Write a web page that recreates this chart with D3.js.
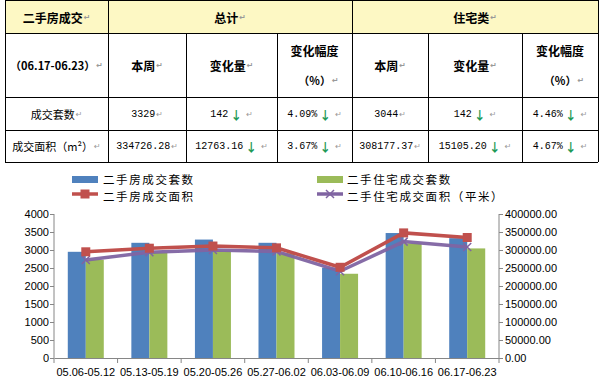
<!DOCTYPE html>
<html><head><meta charset="utf-8">
<script src="https://cdn.jsdelivr.net/npm/d3@7"></script>
<style>body{margin:0;background:#fff}svg{display:block}</style>
</head><body><svg id="c" width="600" height="382"></svg>
<script>
// ---- data ----
const categories = ["05.06-05.12","05.13-05.19","05.20-05.26","05.27-06.02","06.03-06.09","06.10-06.16","06.17-06.23"];
const totalCount = [2950, 3200, 3290, 3200, 2510, 3471, 3329];
const resCount = [2730, 2920, 2960, 2910, 2340, 3186, 3044];
const totalArea = [295000, 305000, 311000, 306000, 252000, 347489.44, 334726.28];
const resArea = [272000, 294000, 300000, 296000, 241000, 323282.57, 308177.37];
const seriesNames = ["二手房成交套数","二手住宅成交套数","二手房成交面积","二手住宅成交面积（平米）"];
const leftTicks = [0,500,1000,1500,2000,2500,3000,3500,4000];
const rightTicks = [0,50000,100000,150000,200000,250000,300000,350000,400000];

const tableTitle = "二手房成交";
const groupHeads = ["总计","住宅类"];
const periodLabel = "（06.17-06.23）";
const subHeads = ["本周","变化量","变化幅度"];
const rowLabels = ["成交套数","成交面积（m²）"];
const tableRows = [
  ["3329","142","4.09%","3044","142","4.46%"],
  ["334726.28","12763.16","3.67%","308177.37","15105.20","4.67%"]
];
const arrows = [[false,true,true,false,true,true],[false,true,true,false,true,true]];

const svg = d3.select("#c");
const CJK = "'Noto Sans CJK SC', sans-serif";
const MONO = "'Liberation Mono', monospace";

// ---- table ----
const colX = [5,108,186,277,352,428,522,598];
const rowY = [0,33,97,130,162];
const tg = svg.append("g");
tg.append("rect").attr("x",5).attr("y",0).attr("width",593).attr("height",33).attr("fill","#fdf8c4");
const lines = [];
rowY.forEach(y=>lines.push([5,y,598,y]));
colX.forEach((x,i)=>{
  if(i===0||i===1||i===4||i===7) lines.push([x,0,x,162]);
  else lines.push([x,33,x,162]);
});
tg.selectAll("line.b").data(lines).join("line").attr("class","b")
  .attr("x1",d=>d[0]).attr("y1",d=>d[1]+0.5*(d[1]===d[3]?1:0)).attr("x2",d=>d[2]).attr("y2",d=>d[3]+0.5*(d[1]===d[3]?1:0))
  .attr("transform",d=>d[0]===d[2]?"translate(0.5,0)":"")
  .attr("stroke","#000").attr("stroke-width",1);

function txt(x,y,s,opt={}){
  const t = tg.append("text").attr("x",x).attr("y",y).attr("dominant-baseline","central")
    .attr("text-anchor",opt.anchor||"middle")
    .attr("font-family",opt.font||CJK).attr("font-size",opt.size||12)
    .attr("font-weight",opt.bold?"bold":"normal").attr("fill","#000");
  t.append("tspan").text(s);
  if(opt.arrow) t.append("tspan").attr("fill","#1f9a56").attr("font-weight","bold").attr("font-family",CJK).attr("font-size",12).attr("dx",2).text("↓");
  if(opt.mark!==false) t.append("tspan").attr("fill","#999").attr("font-family","'DejaVu Sans'").attr("font-size",8).attr("dx",opt.arrow?4:1).text("↵");
  return t;
}
const cx = i=>(colX[i]+colX[i+1])/2;
txt(cx(0),17,tableTitle,{bold:true});
txt((colX[1]+colX[4])/2,17,groupHeads[0],{bold:true});
txt((colX[4]+colX[7])/2,17,groupHeads[1],{bold:true});
txt(cx(0),65,periodLabel,{bold:true,size:11});
[0,3].forEach(off=>{
  txt(cx(1+off),65,subHeads[0],{bold:true});
  txt(cx(2+off),65,subHeads[1],{bold:true});
  txt(cx(3+off),50,subHeads[2],{bold:true,mark:false});
  txt(cx(3+off)+4,80,"（%）",{bold:true,size:11});
});
rowLabels.forEach((lab,r)=>{
  const y = (rowY[r+2]+rowY[r+3])/2;
  txt(cx(0),y,lab,{size:11});
  tableRows[r].forEach((v,c)=>{
    txt(cx(c+1),y,v,{font:MONO,size:10,arrow:arrows[r][c]});
  });
});

// ---- chart ----
const L=54, R=499, T=214, B=358;
const x = d3.scaleBand().domain(categories).range([L,R]);
const yL = d3.scaleLinear().domain([0,4000]).range([B,T]);
const yR = d3.scaleLinear().domain([0,400000]).range([B,T]);
const colors = ["#4f81bd","#9bbb59","#c0504d","#8064a2"];
const bw = 18;
const cg = svg.append("g");
categories.forEach((c,i)=>{
  const cxm = x(c)+x.bandwidth()/2;
  cg.append("rect").attr("x",cxm-bw).attr("y",yL(totalCount[i])).attr("width",bw).attr("height",B-yL(totalCount[i])).attr("fill",colors[0]);
  cg.append("rect").attr("x",cxm).attr("y",yL(resCount[i])).attr("width",bw).attr("height",B-yL(resCount[i])).attr("fill",colors[1]);
});
const axisColor="#868686";
const gl = cg.append("g").attr("transform",`translate(${L},0)`).call(d3.axisLeft(yL).tickValues(leftTicks).tickSize(4).tickFormat(d3.format("d")));
const gr = cg.append("g").attr("transform",`translate(${R},0)`).call(d3.axisRight(yR).tickValues(rightTicks).tickSize(4).tickFormat(d3.format(".2f")));
const gx = cg.append("g").attr("transform",`translate(0,${B})`).call(d3.axisBottom(x).tickSize(0).tickPadding(10));
gx.selectAll(".tick").append("line").attr("x1",-x.bandwidth()/2).attr("x2",-x.bandwidth()/2).attr("y1",0).attr("y2",5).attr("stroke",axisColor);
gx.append("line").attr("x1",R).attr("x2",R).attr("y1",0).attr("y2",5).attr("stroke",axisColor);
[gl,gr,gx].forEach(g=>{
  g.select(".domain").attr("stroke",axisColor);
  g.selectAll(".tick line").attr("stroke",axisColor);
  g.selectAll("text").attr("font-family","'Liberation Sans', sans-serif").attr("font-size",11).attr("fill","#000");
});
gl.selectAll("text").attr("x",-5);
gr.selectAll("text").attr("x",6);
gl.select(".domain").attr("d",`M0,${B}V${T}`);
gr.select(".domain").attr("d",`M0,${B}V${T}`);

const ptX = i=>x(categories[i])+x.bandwidth()/2;
const line = d3.line().x((d,i)=>ptX(i)).y(d=>yR(d));
function xMark(g,px,py,col){
  g.append("path").attr("d",`M${px-4},${py-4}L${px+4},${py+4}M${px-4},${py+4}L${px+4},${py-4}`).attr("stroke",col).attr("stroke-width",1.5);
}
cg.append("path").datum(resArea).attr("d",line).attr("fill","none").attr("stroke",colors[3]).attr("stroke-width",3.5).attr("opacity",0.95);
resArea.forEach((v,i)=>xMark(cg,ptX(i),yR(v),colors[3]));
cg.append("path").datum(totalArea).attr("d",line).attr("fill","none").attr("stroke",colors[2]).attr("stroke-width",3.5);
totalArea.forEach((v,i)=>cg.append("rect").attr("x",ptX(i)-4.5).attr("y",yR(v)-4.5).attr("width",9).attr("height",9).attr("fill",colors[2]));

// legend
const lg = svg.append("g").attr("font-family",CJK).attr("font-size",11.5).attr("letter-spacing",1.6);
lg.append("rect").attr("x",72).attr("y",176).attr("width",26).attr("height",7).attr("fill",colors[0]);
lg.append("text").attr("x",103).attr("y",178.5).attr("dominant-baseline","central").text(seriesNames[0]);
lg.append("line").attr("x1",72).attr("x2",98).attr("y1",194).attr("y2",194).attr("stroke",colors[2]).attr("stroke-width",3.5);
lg.append("rect").attr("x",85-4.5).attr("y",194-4.5).attr("width",9).attr("height",9).attr("fill",colors[2]);
lg.append("text").attr("x",103).attr("y",195.5).attr("dominant-baseline","central").text(seriesNames[2]);
lg.append("rect").attr("x",317).attr("y",176).attr("width",26).attr("height",7).attr("fill",colors[1]);
lg.append("text").attr("x",347).attr("y",178.5).attr("dominant-baseline","central").text(seriesNames[1]);
lg.append("line").attr("x1",317).attr("x2",343).attr("y1",194).attr("y2",194).attr("stroke",colors[3]).attr("stroke-width",3.5);
xMark(lg,330,194,colors[3]);
lg.append("text").attr("x",347).attr("y",195.5).attr("dominant-baseline","central").text(seriesNames[3]);
</script></body></html>
